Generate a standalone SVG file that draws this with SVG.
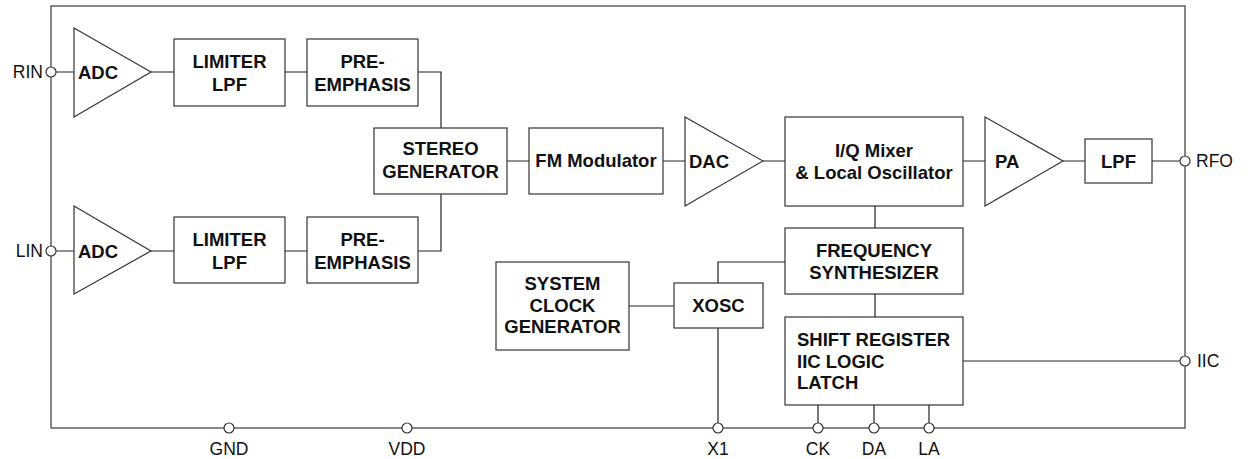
<svg xmlns="http://www.w3.org/2000/svg" width="1248" height="459" viewBox="0 0 1248 459">
<style>
.b{fill:#fff;stroke:#333;stroke-width:1.2}
.w{fill:none;stroke:#222;stroke-width:1.2}
.frame{fill:none;stroke:#555;stroke-width:1.4}
.pin{fill:#fff;stroke:#333;stroke-width:1.2}
.t{font-family:"Liberation Sans",Arial,sans-serif;font-weight:bold;font-size:18.5px;fill:#111}
.c{text-anchor:middle}
.p{font-family:"Liberation Sans",Arial,sans-serif;font-size:17.5px;fill:#111}
</style>
<rect class="frame" x="51" y="6" width="1134" height="422"/>
<g id="connectors">
<path class="w" d="M56 72H74M151 72H174M285 72H307M418 72H441V128"/>
<path class="w" d="M56 251H74M151 251H174M285 251H307M418 251H441V194"/>
<path class="w" d="M507 161H529M663 161H685M763 161H785M963 161H985M1063 161H1085M1152 161H1180"/>
<path class="w" d="M875 206V228M875 294V317M785 262H718V283M629 306H674M718 328V423"/>
<path class="w" d="M963 361H1180M818 405V423M874 405V423M929 405V423"/>
</g>
<g id="rin"><circle class="pin" cx="51" cy="72" r="5"/><text class="p" x="43" y="78" text-anchor="end">RIN</text></g>
<g id="lin"><circle class="pin" cx="51" cy="251" r="5"/><text class="p" x="43" y="257" text-anchor="end">LIN</text></g>
<g id="rfo"><circle class="pin" cx="1185" cy="161" r="5"/><text class="p" x="1196" y="167">RFO</text></g>
<g id="iic"><circle class="pin" cx="1185" cy="361" r="5"/><text class="p" x="1197" y="367">IIC</text></g>
<g id="gnd"><circle class="pin" cx="229" cy="428" r="5"/><text class="p c" x="229" y="455">GND</text></g>
<g id="vdd"><circle class="pin" cx="407" cy="428" r="5"/><text class="p c" x="407" y="455">VDD</text></g>
<g id="x1"><circle class="pin" cx="718" cy="428" r="5"/><text class="p c" x="718" y="455">X1</text></g>
<g id="ck"><circle class="pin" cx="818" cy="428" r="5"/><text class="p c" x="818" y="455">CK</text></g>
<g id="da"><circle class="pin" cx="874" cy="428" r="5"/><text class="p c" x="874" y="455">DA</text></g>
<g id="la"><circle class="pin" cx="929" cy="428" r="5"/><text class="p c" x="929" y="455">LA</text></g>
<g id="adc1"><path class="b" d="M74 28L151 72L74 117Z"/><text class="t" x="78" y="79">ADC</text></g>
<g id="adc2"><path class="b" d="M74 206L151 251L74 294Z"/><text class="t" x="78" y="258">ADC</text></g>
<g id="lim1"><rect class="b" x="174" y="39" width="111" height="67"/><text class="t c" x="229.5" y="68">LIMITER</text><text class="t c" x="229.5" y="91">LPF</text></g>
<g id="lim2"><rect class="b" x="174" y="217" width="111" height="66"/><text class="t c" x="229.5" y="246">LIMITER</text><text class="t c" x="229.5" y="269">LPF</text></g>
<g id="pre1"><rect class="b" x="307" y="39" width="111" height="67"/><text class="t c" x="362.5" y="68">PRE-</text><text class="t c" x="362.5" y="91">EMPHASIS</text></g>
<g id="pre2"><rect class="b" x="307" y="217" width="111" height="66"/><text class="t c" x="362.5" y="246">PRE-</text><text class="t c" x="362.5" y="269">EMPHASIS</text></g>
<g id="stereo"><rect class="b" x="374" y="128" width="133" height="66"/><text class="t c" x="440.5" y="155">STEREO</text><text class="t c" x="440.5" y="178">GENERATOR</text></g>
<g id="fm"><rect class="b" x="529" y="128" width="134" height="66"/><text class="t c" x="596" y="167">FM Modulator</text></g>
<g id="dac"><path class="b" d="M685 117L763 161L685 206Z"/><text class="t" x="689" y="168">DAC</text></g>
<g id="mixer"><rect class="b" x="785" y="117" width="178" height="89"/><text class="t c" x="874" y="157">I/Q Mixer</text><text class="t c" x="874" y="179">&amp; Local Oscillator</text></g>
<g id="pa"><path class="b" d="M985 117L1063 161L985 206Z"/><text class="t" x="995" y="168">PA</text></g>
<g id="lpf"><rect class="b" x="1085" y="139" width="67" height="44"/><text class="t c" x="1118.5" y="168">LPF</text></g>
<g id="freq"><rect class="b" x="785" y="228" width="178" height="66"/><text class="t c" x="874" y="257">FREQUENCY</text><text class="t c" x="874" y="279">SYNTHESIZER</text></g>
<g id="xosc"><rect class="b" x="674" y="283" width="89" height="45"/><text class="t c" x="718.5" y="312">XOSC</text></g>
<g id="sysclk"><rect class="b" x="496" y="262" width="133" height="88"/><text class="t c" x="562.5" y="290">SYSTEM</text><text class="t c" x="562.5" y="312">CLOCK</text><text class="t c" x="562.5" y="333">GENERATOR</text></g>
<g id="shift"><rect class="b" x="785" y="317" width="178" height="88"/><text class="t" x="797" y="346">SHIFT REGISTER</text><text class="t" x="797" y="368">IIC LOGIC</text><text class="t" x="797" y="389">LATCH</text></g>
</svg>
